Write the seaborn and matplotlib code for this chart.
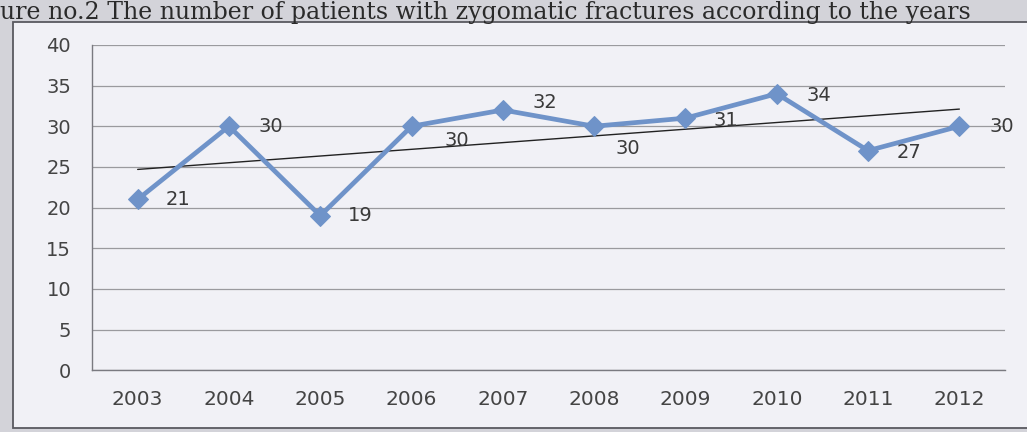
import numpy as np
import pandas as pd
import matplotlib
matplotlib.use("Agg")
import matplotlib.pyplot as plt
from matplotlib.patches import Rectangle
import seaborn as sns

# Patients per year
years = ["2003", "2004", "2005", "2006", "2007", "2008", "2009", "2010", "2011", "2012"]
patients = [21, 30, 19, 30, 32, 30, 31, 34, 27, 30]
y_ticks = [0, 5, 10, 15, 20, 25, 30, 35, 40]

# label offsets in pixels (dx, dy) relative to each point
label_offsets = [(40, 0), (42, 0), (40, 0), (45, -14), (42, 7),
                 (34, -22), (40, -2), (42, -2), (41, -2), (42, 0)]

df = pd.DataFrame({"pos": np.arange(len(years)), "patients": patients})

sns.set_style("white")
plt.rcParams["font.family"] = ["DejaVu Sans"]

fig = plt.figure(figsize=(10.27, 4.32), dpi=100)
fig.patch.set_facecolor("#d3d3d9")

# chart frame, kept behind the axes
frame = Rectangle((0.013, 0.01), 1.2, 0.94, transform=fig.transFigure,
                  facecolor="#f1f1f6", edgecolor="#5a5a60", linewidth=1.3, zorder=-5)
fig.patches.append(frame)

fig.text(0.0, 0.957, "ure no.2 The number of patients with zygomatic fractures according to the years",
         family="DejaVu Serif", fontsize=17, color="#2a2a2a", va="baseline", ha="left")

ax = fig.add_axes([0.0896, 0.143, 0.889, 0.753])
ax.set_facecolor("none")
ax.set_zorder(2)

line_color = "#6f93c9"
sns.regplot(data=df, x="pos", y="patients", ax=ax, ci=None, scatter=False,
            line_kws={"color": "#222222", "linewidth": 1.0, "zorder": 2})
sns.lineplot(data=df, x="pos", y="patients", ax=ax, color=line_color, linewidth=3.4,
             marker="D", markersize=10, markeredgecolor=line_color, zorder=3)

for i, v in enumerate(patients):
    dx, dy = label_offsets[i]
    ax.annotate(str(v), (i, v), xytext=(dx, dy), textcoords="offset pixels",
                ha="center", va="center", fontsize=14, color="#3a3a3a")

ax.set_xlim(-0.5, len(years) - 0.5)
ax.set_ylim(0, 40)
ax.set_yticks(y_ticks)
ax.set_yticklabels([str(t) for t in y_ticks], fontsize=14, color="#444444")
ax.set_xticks(np.arange(len(years)))
ax.set_xticklabels(years, fontsize=14.5, color="#444444")
ax.set_xticks(np.arange(len(years) + 1) - 0.5, minor=True)
ax.tick_params(axis="x", which="major", length=0, pad=14)
ax.tick_params(axis="x", which="minor", direction="in", length=6, color="#777777")
ax.tick_params(axis="y", which="major", direction="out", length=7, color="#888888", pad=8)
ax.set_xlabel("")
ax.set_ylabel("")

ax.yaxis.grid(True, color="#9a9a9e", linewidth=0.9)
ax.set_axisbelow(True)
for side in ["top", "right"]:
    ax.spines[side].set_visible(False)
for side in ["left", "bottom"]:
    ax.spines[side].set_color("#7a7a80")
    ax.spines[side].set_linewidth(1.0)

fig.savefig("out.png", dpi=100, facecolor=fig.get_facecolor())
